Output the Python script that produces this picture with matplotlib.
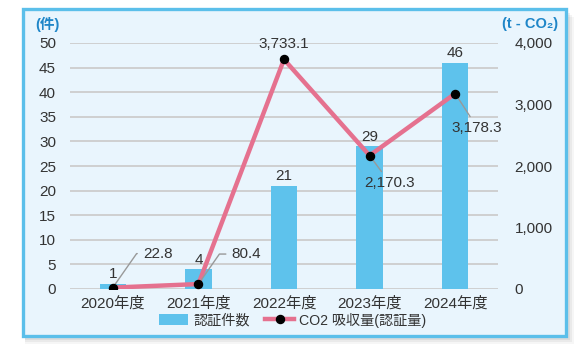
import numpy as np
import matplotlib
matplotlib.use('Agg')
import matplotlib.pyplot as plt
from matplotlib.patches import Rectangle, Patch
from matplotlib.lines import Line2D

plt.rcParams['font.family'] = ['Liberation Sans', 'Noto Sans CJK JP', 'DejaVu Sans']

# データ
years = ['2020年度', '2021年度', '2022年度', '2023年度', '2024年度']
counts = [1, 4, 21, 29, 46]
co2 = [22.8, 80.4, 3733.1, 2170.3, 3178.3]
co2_labels = ['22.8', '80.4', '3,733.1', '2,170.3', '3,178.3']
# ラベルの位置 (pixels)
label_offsets = [(30, 34), (33, 30), (0, 15), (20, -27), (22, -34)]

bar_color = '#5ec2ec'
line_color = '#e5718f'
text_color = '#333333'
unit_color = '#1f86c8'
fs = 11
W, H = 588, 358

fig = plt.figure(figsize=(W / 100, H / 100), dpi=100)
fig.patch.set_facecolor('white')

# 枠と影
fx0, fy0, fx1, fy1 = 23, 9, 566, 336
for i, a in enumerate([0.05, 0.07, 0.09, 0.12]):
    d = 8 - 2 * i
    fig.patches.append(Rectangle(((fx0 + 2) / W, 1 - (fy1 + d) / H), (fx1 - fx0 + d - 2) / W,
                                 (fy1 - fy0) / H, transform=fig.transFigure,
                                 facecolor='#555555', edgecolor='none', alpha=a, zorder=-3))
fig.patches.append(Rectangle((fx0 / W, 1 - fy1 / H), (fx1 - fx0) / W, (fy1 - fy0) / H,
                             transform=fig.transFigure, facecolor='#e9f5fd',
                             edgecolor='#5bbfea', linewidth=2.4, zorder=-1))

ax = fig.add_axes([70 / W, 1 - 289 / H, 428 / W, 246 / H])
ax.set_facecolor('#e9f5fd')
x = np.arange(len(years))
bars = ax.bar(x, counts, width=0.31, color=bar_color, zorder=2)
ax.bar_label(bars, labels=[str(c) for c in counts], padding=2, fontsize=fs, color=text_color)
ax.set_ylim(0, 50)
ax.set_xlim(-0.5, len(years) - 0.5)
ax.set_yticks(range(0, 51, 5))
ax.set_xticks(x)
ax.set_xticklabels(years)
ax.yaxis.grid(True, color='#cdcdcd', linewidth=1.3, zorder=0)
ax.set_axisbelow(True)
for s in ax.spines.values():
    s.set_visible(False)
ax.tick_params(axis='y', length=0, pad=10, labelsize=fs, labelcolor=text_color)
ax.tick_params(axis='x', length=0, pad=5, labelsize=fs, labelcolor=text_color)

ax2 = ax.twinx()
ax2.plot(x, co2, color=line_color, linewidth=3.2, zorder=3)
ax2.plot(x, co2, 'o', color='black', markersize=5.8, zorder=4)
ax2.set_ylim(0, 4000)
ax2.set_yticks(range(0, 4001, 1000))
ax2.set_yticklabels(['0', '1,000', '2,000', '3,000', '4,000'])
for s in ax2.spines.values():
    s.set_visible(False)
ax2.tick_params(axis='y', length=0, pad=12, labelsize=fs, labelcolor=text_color)

for i, (v, lab, off) in enumerate(zip(co2, co2_labels, label_offsets)):
    if i < 2:
        ax2.annotate(lab, xy=(i, v), xytext=off, textcoords='offset pixels',
                     ha='left', va='center', fontsize=fs, color=text_color,
                     arrowprops=dict(arrowstyle='-', color='#999999', lw=1,
                                     connectionstyle='angle,angleA=0,angleB=55,rad=0',
                                     shrinkA=2, shrinkB=0))
    elif i == 2:
        ax2.annotate(lab, xy=(i, v), xytext=off, textcoords='offset pixels',
                     ha='center', va='center', fontsize=fs, color=text_color)
    else:
        ax2.annotate(lab, xy=(i, v), xytext=off, textcoords='offset pixels',
                     ha='center', va='center', fontsize=fs, color=text_color,
                     arrowprops=dict(arrowstyle='-', color='#999999', lw=1,
                                     shrinkA=1, shrinkB=0))

fig.text(35 / W, 1 - 24 / H, '(件)', fontsize=10.5, fontweight='bold', color=unit_color,
         ha='left', va='center')
fig.text(558 / W, 1 - 24 / H, '(t - CO₂)', fontsize=10.5, fontweight='bold', color=unit_color,
         ha='right', va='center')

handles = [Patch(facecolor=bar_color, edgecolor='none'),
           Line2D([0], [0], color=line_color, linewidth=3.2, marker='o',
                  markerfacecolor='black', markeredgecolor='black', markersize=5.8)]
fig.legend(handles, ['認証件数', 'CO2 吸収量(認証量)'], loc='center', ncol=2,
           bbox_to_anchor=(293 / W, 1 - 320 / H), frameon=False, fontsize=10.2,
           handlelength=2.0, handleheight=0.8, columnspacing=1.1, handletextpad=0.4,
           labelcolor=text_color)

fig.savefig('out.png', dpi=100)
